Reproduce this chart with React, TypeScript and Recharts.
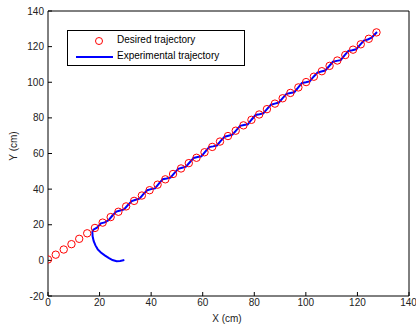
import React from "react"
import { ComposedChart, Line, Scatter, XAxis, YAxis, Legend } from "recharts"

// desired trajectory (circles), y = x line sampled by the planner
const desiredX = [0, 3, 6.1, 9.1, 12.1, 15.2, 18.2, 21.2, 24.3, 27.3, 30.3, 33.4, 36.4, 39.4, 42.5, 45.5, 48.5, 51.6, 54.6, 57.6, 60.7, 63.7, 66.7, 69.8, 72.8, 75.8, 78.9, 81.9, 84.9, 88, 91, 94, 97.1, 100.1, 103.1, 106.2, 109.2, 112.2, 115.3, 118.3, 121.3, 124.4, 127.4]
const desiredY = [0.5, 3.2, 6.1, 9.1, 12.1, 15.2, 18.2, 21.2, 24.3, 27.3, 30.3, 33.4, 36.4, 39.4, 42.5, 45.5, 48.5, 51.6, 54.6, 57.6, 60.7, 63.7, 66.7, 69.8, 72.8, 75.8, 78.9, 81.9, 84.9, 88, 91, 94, 97.1, 100.1, 103.1, 106.2, 109.2, 112.2, 115.3, 118.3, 121.3, 124.4, 128]

// experimental trajectory (blue line)
const expX = [29.6, 28, 26.6, 25, 23.5, 22, 20.5, 19.3, 18.4, 17.7, 17.3, 17.2, 17.6, 19, 20.5, 22, 23.5, 25, 26.5, 28, 29.5, 31, 32.5, 34, 35.5, 37, 38.5, 40, 41.5, 43, 44.5, 46, 47.5, 49, 50.5, 52, 53.5, 55, 56.5, 58, 59.5, 61, 62.5, 64, 65.5, 67, 68.5, 70, 71.5, 73, 74.5, 76, 77.5, 79, 80.5, 82, 83.5, 85, 86.5, 88, 89.5, 91, 92.5, 94, 95.5, 97, 98.5, 100, 101.5, 103, 104.5, 106, 107.5, 109, 110.5, 112, 113.5, 115, 116.5, 118, 119.5, 121, 122.5, 124, 125.5, 127.6]
const expY = [0.2, -0.3, -0.5, 0.2, 1.4, 2.8, 4.4, 6.2, 8.4, 10.9, 13.5, 16, 17.2, 18.4, 20.8, 21.3, 22.6, 25.2, 27.4, 28, 28.6, 31.1, 33.3, 34, 34.6, 37.2, 39.4, 40, 40.4, 43.1, 45.6, 46, 46.5, 49, 51.4, 52, 52.6, 55.1, 57.5, 58, 58.4, 61, 63.6, 64, 64.5, 67.1, 69.4, 70, 70.6, 73, 75.5, 76, 76.4, 79.1, 81.6, 82, 82.5, 85, 87.4, 88, 88.6, 91.1, 93.5, 94, 94.4, 97, 99.6, 100, 100.5, 103.1, 105.4, 106, 106.6, 109, 111.5, 112, 112.4, 115.1, 117.6, 118, 118.5, 121, 123.4, 124, 125, 128.2]

const xTicks = [0, 20, 40, 60, 80, 100, 120, 140]
const yTicks = [-20, 0, 20, 40, 60, 80, 100, 120, 140]

const desired = desiredX.map((x, i) => ({ x, y: desiredY[i] }))
const experimental = expX.map((x, i) => ({ x, y: expY[i] }))

const font = "'Liberation Sans', Arial, sans-serif"
const tickStyle = { fontSize: 10, fill: "#222", fontFamily: font }

function LegendBox() {
  return (
    <div style={{ width: 178, height: 36, border: "1px solid #000", background: "#fff", fontFamily: font, fontSize: 10, color: "#000", boxSizing: "border-box", position: "relative" }}>
      <svg width={50} height={34} style={{ position: "absolute", left: 0, top: 0 }}>
        <circle cx={31} cy={10} r={3.5} fill="none" stroke="#ff0000" />
        <line x1={8} x2={45} y1={26} y2={26} stroke="#0000ff" strokeWidth={2} />
      </svg>
      <div style={{ position: "absolute", left: 49, top: 3 }}>Desired trajectory</div>
      <div style={{ position: "absolute", left: 49, top: 19 }}>Experimental trajectory</div>
    </div>
  )
}

export default function App() {
  return (
    <div style={{ position: "absolute", left: 0, top: 0, background: "#fff" }}>
      <ComposedChart width={416} height={327} margin={{ top: 0, right: 0, bottom: 0, left: 0 }}>
        <XAxis
          dataKey="x"
          type="number"
          domain={[0, 140]}
          ticks={xTicks}
          height={31}
          tickSize={-4}
          tickMargin={7}
          tick={tickStyle}
          stroke="#000"
          allowDataOverflow
          label={{
            content: () => (
              <text x={227} y={322} textAnchor="middle" fontSize={10} fontFamily={font} fill="#222">X (cm)</text>
            )
          }}
        />
        <XAxis
          xAxisId="top"
          orientation="top"
          dataKey="x"
          type="number"
          domain={[0, 140]}
          ticks={xTicks}
          height={11}
          tickSize={-4}
          tickFormatter={() => ""}
          stroke="#000"
        />
        <YAxis
          type="number"
          domain={[-20, 140]}
          ticks={yTicks}
          width={48}
          tickSize={-4}
          tickMargin={8}
          tick={tickStyle}
          stroke="#000"
          allowDataOverflow
          label={{
            content: () => (
              <text x={17} y={146} transform="rotate(-90 17 146)" textAnchor="middle" fontSize={10} fontFamily={font} fill="#222">Y (cm)</text>
            )
          }}
        />
        <YAxis
          yAxisId="right"
          orientation="right"
          type="number"
          domain={[-20, 140]}
          ticks={yTicks}
          width={7}
          tickSize={-4}
          tickFormatter={() => ""}
          stroke="#000"
        />
        <Legend
          verticalAlign="middle"
          align="center"
          wrapperStyle={{ left: 67, top: 30, width: "auto" }}
          content={() => <LegendBox />}
        />
        <Scatter
          data={desired}
          dataKey="y"
          isAnimationActive={false}
          shape={(p: any) => <circle cx={p.cx} cy={p.cy} r={3.7} fill="none" stroke="#ff0000" strokeWidth={1} />}
        />
        <Line
          data={experimental}
          dataKey="y"
          stroke="#0000ff"
          strokeWidth={2}
          dot={false}
          isAnimationActive={false}
        />
      </ComposedChart>
    </div>
  )
}
